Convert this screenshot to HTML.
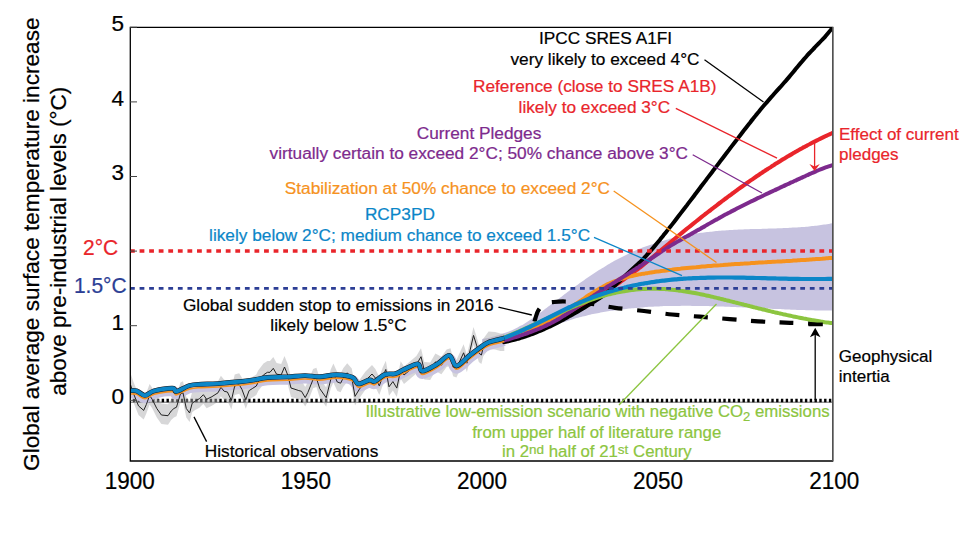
<!DOCTYPE html>
<html><head><meta charset="utf-8"><style>html,body{margin:0;padding:0;background:#fff;width:974px;height:534px;overflow:hidden}svg{display:block}text{font-family:"Liberation Sans",sans-serif;stroke:currentColor;stroke-width:0.22px}</style></head><body>
<svg width="974" height="534" viewBox="0 0 974 534" font-family="Liberation Sans, sans-serif">
<rect width="974" height="534" fill="#fff"/><defs><clipPath id="pc"><rect x="130.3" y="27.4" width="702.4" height="433.1"/></clipPath></defs><g clip-path="url(#pc)">
<path d="M482.0,339.2 C482.5,339.1 484.0,338.8 485.0,338.6 C486.0,338.4 487.0,338.2 488.0,338.0 C489.0,337.7 490.0,337.5 491.0,337.2 C492.0,337.0 493.0,336.7 494.0,336.5 C495.0,336.2 496.0,335.9 497.0,335.6 C498.0,335.3 499.0,335.0 500.0,334.7 C501.0,334.4 502.0,334.1 503.0,333.7 C504.0,333.4 505.0,333.0 506.0,332.6 C507.0,332.3 508.0,331.9 509.0,331.5 C510.0,331.0 511.0,330.6 512.0,330.2 C513.0,329.7 514.0,329.3 515.0,328.8 C516.0,328.3 517.0,327.8 518.0,327.3 C519.0,326.7 520.0,326.2 521.0,325.6 C522.0,325.1 523.0,324.5 524.0,323.9 C525.0,323.3 526.0,322.6 527.0,322.0 C528.0,321.4 529.0,320.7 530.0,320.0 C531.0,319.3 532.0,318.7 533.0,318.0 C534.0,317.3 535.0,316.5 536.0,315.8 C537.0,315.1 538.0,314.4 539.0,313.6 C540.0,312.9 541.0,312.1 542.0,311.4 C543.0,310.6 544.0,309.9 545.0,309.1 C546.0,308.4 547.0,307.6 548.0,306.8 C549.0,306.1 550.0,305.3 551.0,304.5 C552.0,303.8 553.0,303.0 554.0,302.3 C555.0,301.5 556.0,300.7 557.0,300.0 C558.0,299.2 559.0,298.5 560.0,297.7 C561.0,296.9 562.0,296.2 563.0,295.4 C564.0,294.7 565.0,293.9 566.0,293.2 C567.0,292.4 568.0,291.7 569.0,291.0 C570.0,290.2 571.0,289.5 572.0,288.8 C573.0,288.0 574.0,287.3 575.0,286.6 C576.0,285.8 577.0,285.1 578.0,284.4 C579.0,283.7 580.0,283.0 581.0,282.3 C582.0,281.6 583.0,280.9 584.0,280.2 C585.0,279.5 586.0,278.8 587.0,278.1 C588.0,277.4 589.0,276.7 590.0,276.0 C591.0,275.4 592.0,274.7 593.0,274.0 C594.0,273.4 595.0,272.7 596.0,272.1 C597.0,271.4 598.0,270.8 599.0,270.1 C600.0,269.5 601.0,268.9 602.0,268.2 C603.0,267.6 604.0,267.0 605.0,266.4 C606.0,265.8 607.0,265.2 608.0,264.6 C609.0,264.0 610.0,263.4 611.0,262.8 C612.0,262.3 613.0,261.7 614.0,261.1 C615.0,260.6 616.0,260.0 617.0,259.5 C618.0,258.9 619.0,258.4 620.0,257.9 C621.0,257.4 622.0,256.9 623.0,256.4 C624.0,255.9 625.0,255.4 626.0,254.9 C627.0,254.4 628.0,253.9 629.0,253.5 C630.0,253.0 631.0,252.5 632.0,252.1 C633.0,251.6 634.0,251.2 635.0,250.8 C636.0,250.3 637.0,249.9 638.0,249.5 C639.0,249.1 640.0,248.7 641.0,248.3 C642.0,247.9 643.0,247.5 644.0,247.1 C645.0,246.7 646.0,246.3 647.0,246.0 C648.0,245.6 649.0,245.2 650.0,244.9 C651.0,244.5 652.0,244.2 653.0,243.9 C654.0,243.5 655.0,243.2 656.0,242.9 C657.0,242.6 658.0,242.2 659.0,241.9 C660.0,241.6 661.0,241.3 662.0,241.0 C663.0,240.7 664.0,240.5 665.0,240.2 C666.0,239.9 667.0,239.6 668.0,239.4 C669.0,239.1 670.0,238.8 671.0,238.6 C672.0,238.3 673.0,238.1 674.0,237.8 C675.0,237.6 676.0,237.4 677.0,237.1 C678.0,236.9 679.0,236.7 680.0,236.5 C681.0,236.3 682.0,236.1 683.0,235.9 C684.0,235.7 685.0,235.5 686.0,235.3 C687.0,235.1 688.0,234.9 689.0,234.7 C690.0,234.5 691.0,234.4 692.0,234.2 C693.0,234.0 694.0,233.9 695.0,233.7 C696.0,233.5 697.0,233.4 698.0,233.2 C699.0,233.1 700.0,233.0 701.0,232.8 C702.0,232.7 703.0,232.5 704.0,232.4 C705.0,232.3 706.0,232.2 707.0,232.0 C708.0,231.9 709.0,231.8 710.0,231.7 C711.0,231.6 712.0,231.5 713.0,231.4 C714.0,231.3 715.0,231.2 716.0,231.1 C717.0,231.0 718.0,230.9 719.0,230.8 C720.0,230.8 721.0,230.7 722.0,230.6 C723.0,230.5 724.0,230.5 725.0,230.4 C726.0,230.3 727.0,230.3 728.0,230.2 C729.0,230.1 730.0,230.1 731.0,230.0 C732.0,230.0 733.0,229.9 734.0,229.8 C735.0,229.8 736.0,229.7 737.0,229.7 C738.0,229.7 739.0,229.6 740.0,229.6 C741.0,229.5 742.0,229.5 743.0,229.4 C744.0,229.4 745.0,229.4 746.0,229.3 C747.0,229.3 748.0,229.3 749.0,229.2 C750.0,229.2 751.0,229.2 752.0,229.1 C753.0,229.1 754.0,229.1 755.0,229.0 C756.0,229.0 757.0,229.0 758.0,229.0 C759.0,228.9 760.0,228.9 761.0,228.9 C762.0,228.8 763.0,228.8 764.0,228.8 C765.0,228.8 766.0,228.7 767.0,228.7 C768.0,228.7 769.0,228.6 770.0,228.6 C771.0,228.6 772.0,228.5 773.0,228.5 C774.0,228.5 775.0,228.4 776.0,228.4 C777.0,228.4 778.0,228.3 779.0,228.3 C780.0,228.3 781.0,228.2 782.0,228.2 C783.0,228.1 784.0,228.1 785.0,228.1 C786.0,228.0 787.0,228.0 788.0,227.9 C789.0,227.9 790.0,227.8 791.0,227.8 C792.0,227.7 793.0,227.6 794.0,227.6 C795.0,227.5 796.0,227.5 797.0,227.4 C798.0,227.3 799.0,227.3 800.0,227.2 C801.0,227.1 802.0,227.0 803.0,227.0 C804.0,226.9 805.0,226.8 806.0,226.7 C807.0,226.6 808.0,226.5 809.0,226.4 C810.0,226.3 811.0,226.2 812.0,226.1 C813.0,226.0 814.0,225.9 815.0,225.8 C816.0,225.7 817.0,225.6 818.0,225.4 C819.0,225.3 820.0,225.2 821.0,225.0 C822.0,224.9 823.0,224.8 824.0,224.6 C825.0,224.5 826.0,224.3 827.0,224.2 C828.0,224.0 829.2,223.8 830.0,223.7 C830.8,223.5 831.7,223.4 832.0,223.3 L832.0,310.6 C831.7,310.6 830.8,310.6 830.0,310.5 C829.2,310.5 828.0,310.5 827.0,310.5 C826.0,310.5 825.0,310.5 824.0,310.5 C823.0,310.5 822.0,310.5 821.0,310.5 C820.0,310.5 819.0,310.4 818.0,310.4 C817.0,310.4 816.0,310.4 815.0,310.4 C814.0,310.4 813.0,310.3 812.0,310.3 C811.0,310.3 810.0,310.3 809.0,310.2 C808.0,310.2 807.0,310.2 806.0,310.2 C805.0,310.1 804.0,310.1 803.0,310.1 C802.0,310.0 801.0,310.0 800.0,310.0 C799.0,309.9 798.0,309.9 797.0,309.9 C796.0,309.8 795.0,309.8 794.0,309.8 C793.0,309.7 792.0,309.7 791.0,309.7 C790.0,309.6 789.0,309.6 788.0,309.5 C787.0,309.5 786.0,309.4 785.0,309.4 C784.0,309.4 783.0,309.3 782.0,309.3 C781.0,309.2 780.0,309.2 779.0,309.1 C778.0,309.1 777.0,309.1 776.0,309.0 C775.0,309.0 774.0,308.9 773.0,308.9 C772.0,308.8 771.0,308.8 770.0,308.7 C769.0,308.7 768.0,308.6 767.0,308.6 C766.0,308.5 765.0,308.5 764.0,308.4 C763.0,308.4 762.0,308.3 761.0,308.3 C760.0,308.2 759.0,308.2 758.0,308.2 C757.0,308.1 756.0,308.1 755.0,308.0 C754.0,308.0 753.0,307.9 752.0,307.9 C751.0,307.8 750.0,307.8 749.0,307.7 C748.0,307.7 747.0,307.6 746.0,307.6 C745.0,307.5 744.0,307.5 743.0,307.4 C742.0,307.4 741.0,307.3 740.0,307.3 C739.0,307.3 738.0,307.2 737.0,307.2 C736.0,307.1 735.0,307.1 734.0,307.0 C733.0,307.0 732.0,306.9 731.0,306.9 C730.0,306.9 729.0,306.8 728.0,306.8 C727.0,306.7 726.0,306.7 725.0,306.7 C724.0,306.6 723.0,306.6 722.0,306.6 C721.0,306.5 720.0,306.5 719.0,306.5 C718.0,306.4 717.0,306.4 716.0,306.4 C715.0,306.3 714.0,306.3 713.0,306.3 C712.0,306.2 711.0,306.2 710.0,306.2 C709.0,306.2 708.0,306.1 707.0,306.1 C706.0,306.1 705.0,306.1 704.0,306.0 C703.0,306.0 702.0,306.0 701.0,306.0 C700.0,306.0 699.0,305.9 698.0,305.9 C697.0,305.9 696.0,305.9 695.0,305.9 C694.0,305.9 693.0,305.9 692.0,305.9 C691.0,305.8 690.0,305.8 689.0,305.8 C688.0,305.8 687.0,305.8 686.0,305.8 C685.0,305.8 684.0,305.8 683.0,305.8 C682.0,305.8 681.0,305.8 680.0,305.9 C679.0,305.9 678.0,305.9 677.0,305.9 C676.0,305.9 675.0,305.9 674.0,305.9 C673.0,305.9 672.0,306.0 671.0,306.0 C670.0,306.0 669.0,306.0 668.0,306.1 C667.0,306.1 666.0,306.1 665.0,306.1 C664.0,306.2 663.0,306.2 662.0,306.3 C661.0,306.3 660.0,306.3 659.0,306.4 C658.0,306.4 657.0,306.5 656.0,306.5 C655.0,306.6 654.0,306.6 653.0,306.7 C652.0,306.7 651.0,306.8 650.0,306.8 C649.0,306.9 648.0,306.9 647.0,307.0 C646.0,307.1 645.0,307.1 644.0,307.2 C643.0,307.3 642.0,307.4 641.0,307.4 C640.0,307.5 639.0,307.6 638.0,307.7 C637.0,307.8 636.0,307.9 635.0,307.9 C634.0,308.0 633.0,308.1 632.0,308.2 C631.0,308.3 630.0,308.4 629.0,308.5 C628.0,308.6 627.0,308.7 626.0,308.9 C625.0,309.0 624.0,309.1 623.0,309.2 C622.0,309.3 621.0,309.5 620.0,309.6 C619.0,309.7 618.0,309.8 617.0,310.0 C616.0,310.1 615.0,310.2 614.0,310.4 C613.0,310.5 612.0,310.7 611.0,310.8 C610.0,311.0 609.0,311.1 608.0,311.3 C607.0,311.5 606.0,311.6 605.0,311.8 C604.0,312.0 603.0,312.1 602.0,312.3 C601.0,312.5 600.0,312.7 599.0,312.9 C598.0,313.1 597.0,313.3 596.0,313.5 C595.0,313.7 594.0,313.9 593.0,314.1 C592.0,314.3 591.0,314.5 590.0,314.8 C589.0,315.0 588.0,315.2 587.0,315.4 C586.0,315.7 585.0,315.9 584.0,316.2 C583.0,316.4 582.0,316.7 581.0,317.0 C580.0,317.2 579.0,317.5 578.0,317.8 C577.0,318.0 576.0,318.3 575.0,318.6 C574.0,318.9 573.0,319.2 572.0,319.5 C571.0,319.8 570.0,320.1 569.0,320.4 C568.0,320.8 567.0,321.1 566.0,321.4 C565.0,321.7 564.0,322.1 563.0,322.4 C562.0,322.8 561.0,323.1 560.0,323.5 C559.0,323.8 558.0,324.1 557.0,324.5 C556.0,324.9 555.0,325.2 554.0,325.6 C553.0,325.9 552.0,326.3 551.0,326.7 C550.0,327.0 549.0,327.4 548.0,327.8 C547.0,328.1 546.0,328.5 545.0,328.9 C544.0,329.2 543.0,329.6 542.0,330.0 C541.0,330.3 540.0,330.7 539.0,331.1 C538.0,331.4 537.0,331.8 536.0,332.2 C535.0,332.5 534.0,332.9 533.0,333.3 C532.0,333.6 531.0,334.0 530.0,334.3 C529.0,334.7 528.0,335.0 527.0,335.4 C526.0,335.7 525.0,336.1 524.0,336.4 C523.0,336.8 522.0,337.1 521.0,337.4 C520.0,337.8 519.0,338.1 518.0,338.4 C517.0,338.7 516.0,339.1 515.0,339.4 C514.0,339.7 513.0,340.0 512.0,340.3 C511.0,340.6 510.0,340.9 509.0,341.1 C508.0,341.4 507.0,341.7 506.0,342.0 C505.0,342.2 504.0,342.5 503.0,342.7 C502.0,343.0 501.0,343.2 500.0,343.5 C499.0,343.7 498.0,343.9 497.0,344.1 C496.0,344.3 495.0,344.5 494.0,344.7 C493.0,344.9 492.0,345.1 491.0,345.2 C490.0,345.4 489.0,345.6 488.0,345.7 C487.0,345.8 486.0,346.0 485.0,346.1 C484.0,346.2 482.5,346.3 482.0,346.4 Z" fill="#c7c3e0"/>
<line x1="130" y1="402.2" x2="832" y2="402.2" stroke="#666" stroke-width="1"/>
<line x1="130" y1="400.4" x2="832" y2="400.4" stroke="#000" stroke-width="3.5" stroke-dasharray="2.4 2.4" stroke-dashoffset="-2.9"/>
<path d="M130.6,373.5 L133.2,381.3 L138.5,394.4 L143.7,398.9 L146.3,393.1 L149.6,383.9 L152.2,387.8 L156.8,397.0 L161.4,403.5 L168.0,404.2 L171.2,399.5 L173.9,397.0 L176.5,395.7 L180.4,382.5 L183.0,381.3 L186.3,397.0 L189.6,401.5 L192.2,391.7 L194.8,389.8 L199.4,387.2 L203.4,383.2 L206.6,387.8 L211.9,385.2 L218.0,381.3 L220.9,375.8 L224.2,379.8 L227.4,380.5 L231.4,388.9 L234.7,374.5 L239.2,373.2 L241.9,377.8 L245.8,388.3 L249.1,379.1 L252.3,377.1 L256.3,374.5 L258.2,370.6 L263.5,363.5 L267.4,361.0 L270.0,361.0 L273.3,357.1 L276.6,363.1 L281.2,363.9 L284.5,356.0 L287.7,364.0 L291.0,377.2 L295.0,378.6 L298.8,379.9 L301.5,380.7 L305.2,387.1 L307.9,381.9 L313.1,368.9 L316.4,367.7 L319.7,378.3 L326.2,387.6 L330.8,369.3 L333.4,363.5 L337.3,372.2 L340.6,373.4 L343.2,368.3 L347.2,363.2 L351.8,368.5 L355.0,386.9 L359.0,380.4 L365.5,371.4 L372.0,364.9 L375.4,369.0 L379.3,377.0 L382.6,367.8 L385.8,360.7 L389.0,378.1 L392.9,372.9 L396.8,379.5 L400.7,361.3 L404.0,366.5 L416.4,356.1 L421.0,348.2 L424.3,361.9 L430.2,362.6 L435.4,353.4 L441.4,356.7 L446.6,349.5 L450.5,348.2 L453.1,358.7 L456.4,360.0 L463.6,344.3 L466.9,354.7 L470.2,341.3 L473.5,326.9 L476.8,337.4 L478.8,344.6 L481.4,346.5 L483.3,338.7 L488.6,331.5 L495.1,332.1 L500.4,333.5 L504.3,333.5 L504.3,351.0 L500.4,351.0 L495.1,349.6 L488.6,349.0 L483.3,356.2 L481.4,364.0 L478.8,362.1 L476.8,354.9 L473.5,344.4 L470.2,358.8 L466.9,372.2 L463.6,361.8 L456.4,377.5 L453.1,376.2 L450.5,365.7 L446.6,367.0 L441.4,374.2 L435.4,370.9 L430.2,380.1 L424.3,379.4 L421.0,365.7 L416.4,373.6 L404.0,384.0 L400.7,378.8 L396.8,397.1 L392.9,390.6 L389.0,395.8 L385.8,378.5 L382.6,385.7 L379.3,394.9 L375.4,387.0 L372.0,383.0 L365.5,389.6 L359.0,398.8 L355.0,405.4 L351.8,387.0 L347.2,381.8 L343.2,387.0 L340.6,392.2 L337.3,391.0 L333.4,382.4 L330.8,388.3 L326.2,406.7 L319.7,397.5 L316.4,387.0 L313.1,388.3 L307.9,401.4 L305.2,406.6 L301.5,400.3 L298.8,399.6 L295.0,398.3 L291.0,397.0 L287.7,383.9 L284.5,376.0 L281.2,383.9 L276.6,383.2 L273.3,377.3 L270.0,381.3 L267.4,381.3 L263.5,383.9 L258.2,391.1 L256.3,395.0 L252.3,397.6 L249.1,399.6 L245.8,408.8 L241.9,398.3 L239.2,393.7 L234.7,395.0 L231.4,409.4 L227.4,401.0 L224.2,400.3 L220.9,396.3 L218.0,401.8 L211.9,405.7 L206.6,408.3 L203.4,403.7 L199.4,407.7 L194.8,410.3 L192.2,412.2 L189.6,422.0 L186.3,417.5 L183.0,401.8 L180.4,403.0 L176.5,416.2 L173.9,417.5 L171.2,420.0 L168.0,424.7 L161.4,424.0 L156.8,417.5 L152.2,408.3 L149.6,404.4 L146.3,413.6 L143.7,419.4 L138.5,414.9 L133.2,401.8 L130.6,394.0 Z" fill="#aaaaad" fill-opacity="0.47"/>
<path d="M130.0,393.6 C131.1,393.6 134.0,392.8 136.5,393.6 C139.0,394.4 142.1,398.2 145.0,398.2 C147.9,398.2 149.6,394.8 154.2,393.6 C158.8,392.4 168.8,390.9 172.5,391.0 C176.2,391.1 173.7,394.6 176.5,394.2 C179.3,393.8 185.4,389.5 189.6,388.3 C193.8,387.1 196.7,387.3 201.4,387.0 C206.1,386.7 210.3,387.0 218.0,386.4 C225.7,385.8 239.6,384.6 247.8,383.6 C256.0,382.6 260.9,381.0 267.4,380.3 C273.9,379.6 280.7,380.0 287.0,379.7 C293.3,379.4 299.6,378.4 305.0,378.4 C310.4,378.4 314.4,379.6 319.7,379.5 C325.0,379.4 331.2,377.4 336.7,377.5 C342.1,377.6 348.8,378.6 352.4,380.1 C356.0,381.6 355.5,386.2 358.3,386.7 C361.1,387.1 366.7,383.2 369.4,382.8 C372.1,382.4 372.1,385.0 374.7,384.1 C377.3,383.2 381.5,378.5 385.0,377.2 C388.5,375.9 392.4,377.3 395.5,376.5 C398.6,375.7 399.6,374.2 403.3,372.6 C407.0,371.0 414.6,366.5 417.8,366.7 C421.0,366.9 419.0,373.9 422.3,373.9 C425.6,373.9 432.9,369.3 437.4,366.7 C441.9,364.1 446.0,357.9 449.2,358.2 C452.4,358.5 453.1,368.6 456.4,368.7 C459.7,368.8 465.3,361.6 468.9,358.8 C472.5,356.0 474.8,354.1 478.1,351.8 C481.4,349.5 484.2,346.9 488.6,345.1 C493.0,343.3 501.7,341.7 504.3,341.0" fill="none" stroke="#c7c3e0" stroke-width="10" stroke-linejoin="round"/>
<path d="M130.6,385.0 L133.2,392.8 L138.5,405.9 L143.7,410.4 L146.3,404.6 L149.6,395.4 L152.2,399.3 L156.8,408.5 L161.4,415.0 L168.0,415.7 L171.2,411.0 L173.9,408.5 L176.5,407.2 L180.4,394.0 L183.0,392.8 L186.3,408.5 L189.6,413.0 L192.2,403.2 L194.8,401.3 L199.4,398.7 L203.4,394.7 L206.6,399.3 L211.9,396.7 L218.0,392.8 L220.9,387.3 L224.2,391.3 L227.4,392.0 L231.4,400.4 L234.7,386.0 L239.2,384.7 L241.9,389.3 L245.8,399.8 L249.1,390.6 L252.3,388.6 L256.3,386.0 L258.2,382.1 L263.5,374.9 L267.4,372.3 L270.0,372.3 L273.3,368.3 L276.6,374.2 L281.2,374.9 L284.5,367.0 L287.7,374.9 L291.0,388.0 L295.0,389.3 L298.8,390.6 L301.5,391.3 L305.2,397.6 L307.9,392.4 L313.1,379.3 L316.4,378.0 L319.7,388.5 L326.2,397.7 L330.8,379.3 L333.4,373.4 L337.3,382.0 L340.6,383.2 L343.2,378.0 L347.2,372.8 L351.8,378.0 L355.0,396.4 L359.0,389.8 L365.5,380.6 L372.0,374.0 L375.4,378.0 L379.3,385.9 L382.6,376.7 L385.8,369.5 L389.0,386.8 L392.9,381.6 L396.8,388.1 L400.7,369.8 L404.0,375.0 L416.4,364.6 L421.0,356.7 L424.3,370.4 L430.2,371.1 L435.4,361.9 L441.4,365.2 L446.6,358.0 L450.5,356.7 L453.1,367.2 L456.4,368.5 L463.6,352.8 L466.9,363.2 L470.2,349.8 L473.5,335.4 L476.8,345.9 L478.8,353.1 L481.4,355.0 L483.3,347.2 L488.6,340.0 L495.1,340.6 L500.4,342.0 L504.3,342.0" fill="none" stroke="#222" stroke-width="1" stroke-linejoin="round"/>
<path d="M533.4,326.0 C533.8,324.7 534.6,320.6 535.5,318.0 C536.4,315.4 536.9,312.5 538.5,310.1 C540.1,307.7 542.8,304.8 545.0,303.5 C547.2,302.2 548.7,302.5 552.0,302.2 C555.3,301.9 558.7,301.3 565.0,301.5 C571.3,301.7 581.7,302.6 590.0,303.6 C598.3,304.7 606.0,306.6 615.0,307.8 C624.0,309.0 634.5,309.9 644.0,311.0 C653.5,312.1 662.7,313.6 672.0,314.5 C681.3,315.4 685.7,315.6 700.0,316.7 C714.3,317.8 743.0,320.3 758.0,321.3 C773.0,322.3 779.2,322.4 790.0,322.8 C800.8,323.2 817.5,323.8 823.0,324.0" fill="none" stroke="#000" stroke-width="4.2" stroke-dasharray="14 14.6" stroke-dashoffset="-4.5"/>
<path d="M504.0,341.5 C504.5,341.4 506.0,341.0 507.0,340.8 C508.0,340.5 509.0,340.2 510.0,340.0 C511.0,339.7 512.0,339.4 513.0,339.1 C514.0,338.8 515.0,338.5 516.0,338.2 C517.0,337.9 518.0,337.5 519.0,337.2 C520.0,336.9 521.0,336.5 522.0,336.2 C523.0,335.8 524.0,335.5 525.0,335.1 C526.0,334.8 527.0,334.4 528.0,334.0 C529.0,333.7 530.0,333.3 531.0,332.9 C532.0,332.5 533.0,332.1 534.0,331.7 C535.0,331.3 536.0,330.9 537.0,330.5 C538.0,330.0 539.0,329.6 540.0,329.2 C541.0,328.7 542.0,328.3 543.0,327.8 C544.0,327.4 545.0,326.9 546.0,326.5 C547.0,326.0 548.0,325.5 549.0,325.1 C550.0,324.6 551.0,324.1 552.0,323.6 C553.0,323.1 554.0,322.6 555.0,322.1 C556.0,321.6 557.0,321.1 558.0,320.5 C559.0,320.0 560.0,319.5 561.0,319.0 C562.0,318.4 563.0,317.9 564.0,317.3 C565.0,316.8 566.0,316.2 567.0,315.7 C568.0,315.1 569.0,314.6 570.0,314.0 C571.0,313.4 572.0,312.9 573.0,312.3 C574.0,311.7 575.0,311.1 576.0,310.6 C577.0,310.0 578.0,309.4 579.0,308.8 C580.0,308.2 581.0,307.6 582.0,307.0 C583.0,306.5 584.0,305.9 585.0,305.2 C586.0,304.6 587.0,304.0 588.0,303.4 C589.0,302.8 590.0,302.2 591.0,301.6 C592.0,300.9 593.0,300.3 594.0,299.7 C595.0,299.0 596.0,298.4 597.0,297.8 C598.0,297.1 599.0,296.5 600.0,295.8 C601.0,295.2 602.0,294.5 603.0,293.8 C604.0,293.2 605.0,292.5 606.0,291.8 C607.0,291.2 608.0,290.5 609.0,289.8 C610.0,289.1 611.0,288.4 612.0,287.7 C613.0,287.0 614.0,286.3 615.0,285.7 C616.0,285.0 617.0,284.3 618.0,283.5 C619.0,282.8 620.0,282.1 621.0,281.4 C622.0,280.7 623.0,280.0 624.0,279.3 C625.0,278.6 626.0,277.8 627.0,277.1 C628.0,276.4 629.0,275.7 630.0,274.9 C631.0,274.2 632.0,273.4 633.0,272.7 C634.0,271.9 635.0,271.2 636.0,270.4 C637.0,269.7 638.0,268.9 639.0,268.1 C640.0,267.4 641.0,266.6 642.0,265.8 C643.0,265.0 644.0,264.2 645.0,263.4 C646.0,262.6 647.0,261.8 648.0,261.0 C649.0,260.1 650.0,259.3 651.0,258.5 C652.0,257.7 653.0,256.8 654.0,256.0 C655.0,255.2 656.0,254.3 657.0,253.5 C658.0,252.7 659.0,251.8 660.0,251.0 C661.0,250.2 662.0,249.3 663.0,248.5 C664.0,247.7 665.0,246.8 666.0,246.0 C667.0,245.1 668.0,244.3 669.0,243.5 C670.0,242.6 671.0,241.8 672.0,241.0 C673.0,240.2 674.0,239.3 675.0,238.5 C676.0,237.7 677.0,236.9 678.0,236.0 C679.0,235.2 680.0,234.4 681.0,233.6 C682.0,232.8 683.0,231.9 684.0,231.1 C685.0,230.3 686.0,229.5 687.0,228.7 C688.0,227.9 689.0,227.1 690.0,226.3 C691.0,225.5 692.0,224.7 693.0,223.9 C694.0,223.1 695.0,222.3 696.0,221.5 C697.0,220.7 698.0,219.9 699.0,219.1 C700.0,218.3 701.0,217.5 702.0,216.7 C703.0,215.9 704.0,215.1 705.0,214.3 C706.0,213.6 707.0,212.8 708.0,212.0 C709.0,211.2 710.0,210.4 711.0,209.7 C712.0,208.9 713.0,208.1 714.0,207.4 C715.0,206.6 716.0,205.8 717.0,205.1 C718.0,204.3 719.0,203.5 720.0,202.8 C721.0,202.0 722.0,201.3 723.0,200.5 C724.0,199.8 725.0,199.0 726.0,198.3 C727.0,197.5 728.0,196.8 729.0,196.0 C730.0,195.3 731.0,194.6 732.0,193.8 C733.0,193.1 734.0,192.4 735.0,191.6 C736.0,190.9 737.0,190.2 738.0,189.4 C739.0,188.7 740.0,188.0 741.0,187.3 C742.0,186.6 743.0,185.9 744.0,185.2 C745.0,184.4 746.0,183.7 747.0,183.0 C748.0,182.3 749.0,181.6 750.0,180.9 C751.0,180.2 752.0,179.6 753.0,178.9 C754.0,178.2 755.0,177.5 756.0,176.8 C757.0,176.1 758.0,175.5 759.0,174.8 C760.0,174.1 761.0,173.4 762.0,172.8 C763.0,172.1 764.0,171.4 765.0,170.8 C766.0,170.1 767.0,169.5 768.0,168.8 C769.0,168.2 770.0,167.5 771.0,166.9 C772.0,166.2 773.0,165.6 774.0,165.0 C775.0,164.3 776.0,163.7 777.0,163.1 C778.0,162.4 779.0,161.8 780.0,161.2 C781.0,160.6 782.0,160.0 783.0,159.3 C784.0,158.7 785.0,158.1 786.0,157.5 C787.0,156.9 788.0,156.3 789.0,155.7 C790.0,155.1 791.0,154.6 792.0,154.0 C793.0,153.4 794.0,152.8 795.0,152.2 C796.0,151.7 797.0,151.1 798.0,150.5 C799.0,150.0 800.0,149.4 801.0,148.8 C802.0,148.3 803.0,147.7 804.0,147.2 C805.0,146.6 806.0,146.1 807.0,145.6 C808.0,145.0 809.0,144.5 810.0,144.0 C811.0,143.4 812.0,142.9 813.0,142.4 C814.0,141.9 815.0,141.4 816.0,140.9 C817.0,140.4 818.0,139.8 819.0,139.4 C820.0,138.9 821.0,138.4 822.0,137.9 C823.0,137.4 824.0,136.9 825.0,136.4 C826.0,136.0 827.0,135.5 828.0,135.0 C829.0,134.5 830.3,133.9 831.0,133.6 C831.7,133.3 831.8,133.3 832.0,133.2" fill="none" stroke="#e9252b" stroke-width="4.1" stroke-linecap="round"/>
<path d="M504.0,342.1 C504.5,342.0 506.0,341.7 507.0,341.5 C508.0,341.3 509.0,341.1 510.0,340.8 C511.0,340.6 512.0,340.4 513.0,340.1 C514.0,339.9 515.0,339.6 516.0,339.3 C517.0,339.0 518.0,338.8 519.0,338.5 C520.0,338.2 521.0,337.9 522.0,337.5 C523.0,337.2 524.0,336.9 525.0,336.6 C526.0,336.2 527.0,335.9 528.0,335.5 C529.0,335.2 530.0,334.8 531.0,334.4 C532.0,334.1 533.0,333.7 534.0,333.3 C535.0,332.9 536.0,332.5 537.0,332.1 C538.0,331.7 539.0,331.3 540.0,330.9 C541.0,330.4 542.0,330.0 543.0,329.6 C544.0,329.1 545.0,328.7 546.0,328.2 C547.0,327.8 548.0,327.3 549.0,326.8 C550.0,326.4 551.0,325.9 552.0,325.4 C553.0,324.9 554.0,324.4 555.0,323.9 C556.0,323.4 557.0,322.9 558.0,322.4 C559.0,321.9 560.0,321.4 561.0,320.8 C562.0,320.3 563.0,319.8 564.0,319.2 C565.0,318.7 566.0,318.2 567.0,317.6 C568.0,317.1 569.0,316.5 570.0,315.9 C571.0,315.4 572.0,314.8 573.0,314.2 C574.0,313.7 575.0,313.1 576.0,312.5 C577.0,311.9 578.0,311.4 579.0,310.8 C580.0,310.2 581.0,309.6 582.0,309.0 C583.0,308.4 584.0,307.8 585.0,307.2 C586.0,306.6 587.0,306.0 588.0,305.4 C589.0,304.8 590.0,304.2 591.0,303.6 C592.0,303.0 593.0,302.4 594.0,301.7 C595.0,301.1 596.0,300.5 597.0,299.9 C598.0,299.2 599.0,298.6 600.0,297.9 C601.0,297.2 602.0,296.5 603.0,295.8 C604.0,295.1 605.0,294.3 606.0,293.5 C607.0,292.7 608.0,291.8 609.0,290.9 C610.0,290.1 611.0,289.1 612.0,288.2 C613.0,287.3 614.0,286.4 615.0,285.4 C616.0,284.5 617.0,283.5 618.0,282.6 C619.0,281.6 620.0,280.6 621.0,279.7 C622.0,278.7 623.0,277.7 624.0,276.8 C625.0,275.8 626.0,274.9 627.0,274.0 C628.0,273.0 629.0,272.1 630.0,271.2 C631.0,270.3 632.0,269.4 633.0,268.5 C634.0,267.6 635.0,266.7 636.0,265.8 C637.0,264.9 638.0,264.0 639.0,263.0 C640.0,262.1 641.0,261.1 642.0,260.1 C643.0,259.1 644.0,258.0 645.0,257.0 C646.0,255.9 647.0,254.8 648.0,253.7 C649.0,252.6 650.0,251.5 651.0,250.4 C652.0,249.2 653.0,248.1 654.0,246.9 C655.0,245.7 656.0,244.5 657.0,243.3 C658.0,242.1 659.0,240.9 660.0,239.7 C661.0,238.5 662.0,237.2 663.0,236.0 C664.0,234.7 665.0,233.5 666.0,232.2 C667.0,231.0 668.0,229.7 669.0,228.4 C670.0,227.1 671.0,225.9 672.0,224.6 C673.0,223.3 674.0,222.0 675.0,220.7 C676.0,219.4 677.0,218.1 678.0,216.8 C679.0,215.5 680.0,214.2 681.0,212.9 C682.0,211.6 683.0,210.3 684.0,209.0 C685.0,207.7 686.0,206.4 687.0,205.1 C688.0,203.7 689.0,202.4 690.0,201.1 C691.0,199.8 692.0,198.5 693.0,197.2 C694.0,195.9 695.0,194.5 696.0,193.2 C697.0,191.9 698.0,190.6 699.0,189.3 C700.0,188.0 701.0,186.6 702.0,185.3 C703.0,184.0 704.0,182.7 705.0,181.4 C706.0,180.1 707.0,178.7 708.0,177.4 C709.0,176.1 710.0,174.8 711.0,173.5 C712.0,172.2 713.0,170.8 714.0,169.5 C715.0,168.2 716.0,166.9 717.0,165.6 C718.0,164.3 719.0,163.0 720.0,161.6 C721.0,160.3 722.0,159.0 723.0,157.7 C724.0,156.4 725.0,155.1 726.0,153.8 C727.0,152.5 728.0,151.2 729.0,149.9 C730.0,148.5 731.0,147.2 732.0,145.9 C733.0,144.6 734.0,143.3 735.0,142.0 C736.0,140.7 737.0,139.4 738.0,138.1 C739.0,136.8 740.0,135.5 741.0,134.2 C742.0,132.9 743.0,131.6 744.0,130.3 C745.0,129.1 746.0,127.8 747.0,126.5 C748.0,125.2 749.0,123.9 750.0,122.7 C751.0,121.4 752.0,120.1 753.0,118.9 C754.0,117.6 755.0,116.4 756.0,115.1 C757.0,113.9 758.0,112.7 759.0,111.5 C760.0,110.2 761.0,109.0 762.0,107.8 C763.0,106.6 764.0,105.5 765.0,104.3 C766.0,103.1 767.0,101.9 768.0,100.8 C769.0,99.7 770.0,98.5 771.0,97.4 C772.0,96.3 773.0,95.2 774.0,94.0 C775.0,92.9 776.0,91.8 777.0,90.7 C778.0,89.6 779.0,88.5 780.0,87.4 C781.0,86.3 782.0,85.1 783.0,84.0 C784.0,82.9 785.0,81.7 786.0,80.6 C787.0,79.4 788.0,78.3 789.0,77.1 C790.0,75.9 791.0,74.7 792.0,73.5 C793.0,72.3 794.0,71.1 795.0,69.9 C796.0,68.7 797.0,67.4 798.0,66.2 C799.0,65.0 800.0,63.8 801.0,62.7 C802.0,61.5 803.0,60.3 804.0,59.1 C805.0,58.0 806.0,56.9 807.0,55.7 C808.0,54.6 809.0,53.5 810.0,52.5 C811.0,51.4 812.0,50.4 813.0,49.3 C814.0,48.3 815.0,47.2 816.0,46.2 C817.0,45.2 818.0,44.2 819.0,43.1 C820.0,42.1 821.0,41.1 822.0,40.0 C823.0,38.9 824.0,37.9 825.0,36.8 C826.0,35.7 827.0,34.5 828.0,33.3 C829.0,32.1 830.0,30.9 831.0,29.6 C832.0,28.3 833.5,26.3 834.0,25.6" fill="none" stroke="#000" stroke-width="4" stroke-linecap="round"/>
<path d="M504.0,337.7 C504.5,337.5 506.0,337.2 507.0,336.9 C508.0,336.6 509.0,336.3 510.0,336.1 C511.0,335.8 512.0,335.5 513.0,335.2 C514.0,334.9 515.0,334.6 516.0,334.3 C517.0,334.0 518.0,333.6 519.0,333.3 C520.0,333.0 521.0,332.7 522.0,332.3 C523.0,332.0 524.0,331.6 525.0,331.3 C526.0,330.9 527.0,330.5 528.0,330.2 C529.0,329.8 530.0,329.4 531.0,329.0 C532.0,328.6 533.0,328.2 534.0,327.8 C535.0,327.4 536.0,326.9 537.0,326.5 C538.0,326.1 539.0,325.6 540.0,325.2 C541.0,324.7 542.0,324.2 543.0,323.8 C544.0,323.3 545.0,322.8 546.0,322.3 C547.0,321.8 548.0,321.3 549.0,320.8 C550.0,320.3 551.0,319.7 552.0,319.2 C553.0,318.6 554.0,318.1 555.0,317.5 C556.0,316.9 557.0,316.3 558.0,315.8 C559.0,315.2 560.0,314.5 561.0,313.9 C562.0,313.3 563.0,312.7 564.0,312.0 C565.0,311.4 566.0,310.7 567.0,310.1 C568.0,309.4 569.0,308.7 570.0,308.1 C571.0,307.4 572.0,306.7 573.0,306.0 C574.0,305.3 575.0,304.7 576.0,304.0 C577.0,303.3 578.0,302.6 579.0,301.9 C580.0,301.2 581.0,300.5 582.0,299.8 C583.0,299.2 584.0,298.5 585.0,297.8 C586.0,297.1 587.0,296.4 588.0,295.8 C589.0,295.1 590.0,294.5 591.0,293.8 C592.0,293.2 593.0,292.5 594.0,291.9 C595.0,291.3 596.0,290.7 597.0,290.1 C598.0,289.5 599.0,288.9 600.0,288.3 C601.0,287.7 602.0,287.2 603.0,286.7 C604.0,286.1 605.0,285.6 606.0,285.1 C607.0,284.6 608.0,284.1 609.0,283.7 C610.0,283.2 611.0,282.8 612.0,282.4 C613.0,281.9 614.0,281.5 615.0,281.1 C616.0,280.8 617.0,280.4 618.0,280.0 C619.0,279.7 620.0,279.3 621.0,279.0 C622.0,278.7 623.0,278.4 624.0,278.1 C625.0,277.8 626.0,277.5 627.0,277.2 C628.0,276.9 629.0,276.7 630.0,276.4 C631.0,276.2 632.0,275.9 633.0,275.7 C634.0,275.5 635.0,275.3 636.0,275.0 C637.0,274.8 638.0,274.6 639.0,274.4 C640.0,274.2 641.0,274.1 642.0,273.9 C643.0,273.7 644.0,273.5 645.0,273.4 C646.0,273.2 647.0,273.0 648.0,272.9 C649.0,272.7 650.0,272.6 651.0,272.4 C652.0,272.3 653.0,272.1 654.0,272.0 C655.0,271.8 656.0,271.7 657.0,271.6 C658.0,271.4 659.0,271.3 660.0,271.2 C661.0,271.0 662.0,270.9 663.0,270.8 C664.0,270.6 665.0,270.5 666.0,270.4 C667.0,270.3 668.0,270.1 669.0,270.0 C670.0,269.9 671.0,269.8 672.0,269.7 C673.0,269.5 674.0,269.4 675.0,269.3 C676.0,269.2 677.0,269.1 678.0,269.0 C679.0,268.9 680.0,268.8 681.0,268.6 C682.0,268.5 683.0,268.4 684.0,268.3 C685.0,268.2 686.0,268.1 687.0,268.0 C688.0,267.9 689.0,267.8 690.0,267.7 C691.0,267.6 692.0,267.5 693.0,267.4 C694.0,267.3 695.0,267.2 696.0,267.2 C697.0,267.1 698.0,267.0 699.0,266.9 C700.0,266.8 701.0,266.7 702.0,266.6 C703.0,266.5 704.0,266.4 705.0,266.4 C706.0,266.3 707.0,266.2 708.0,266.1 C709.0,266.0 710.0,265.9 711.0,265.9 C712.0,265.8 713.0,265.7 714.0,265.6 C715.0,265.6 716.0,265.5 717.0,265.4 C718.0,265.3 719.0,265.2 720.0,265.2 C721.0,265.1 722.0,265.0 723.0,265.0 C724.0,264.9 725.0,264.8 726.0,264.7 C727.0,264.7 728.0,264.6 729.0,264.5 C730.0,264.5 731.0,264.4 732.0,264.3 C733.0,264.3 734.0,264.2 735.0,264.1 C736.0,264.1 737.0,264.0 738.0,263.9 C739.0,263.9 740.0,263.8 741.0,263.7 C742.0,263.7 743.0,263.6 744.0,263.6 C745.0,263.5 746.0,263.4 747.0,263.4 C748.0,263.3 749.0,263.2 750.0,263.2 C751.0,263.1 752.0,263.1 753.0,263.0 C754.0,262.9 755.0,262.9 756.0,262.8 C757.0,262.8 758.0,262.7 759.0,262.6 C760.0,262.6 761.0,262.5 762.0,262.5 C763.0,262.4 764.0,262.3 765.0,262.3 C766.0,262.2 767.0,262.2 768.0,262.1 C769.0,262.1 770.0,262.0 771.0,261.9 C772.0,261.9 773.0,261.8 774.0,261.8 C775.0,261.7 776.0,261.6 777.0,261.6 C778.0,261.5 779.0,261.5 780.0,261.4 C781.0,261.4 782.0,261.3 783.0,261.2 C784.0,261.2 785.0,261.1 786.0,261.1 C787.0,261.0 788.0,260.9 789.0,260.9 C790.0,260.8 791.0,260.7 792.0,260.7 C793.0,260.6 794.0,260.6 795.0,260.5 C796.0,260.4 797.0,260.4 798.0,260.3 C799.0,260.2 800.0,260.2 801.0,260.1 C802.0,260.1 803.0,260.0 804.0,259.9 C805.0,259.9 806.0,259.8 807.0,259.7 C808.0,259.7 809.0,259.6 810.0,259.5 C811.0,259.5 812.0,259.4 813.0,259.3 C814.0,259.2 815.0,259.2 816.0,259.1 C817.0,259.0 818.0,259.0 819.0,258.9 C820.0,258.8 821.0,258.7 822.0,258.7 C823.0,258.6 824.0,258.5 825.0,258.4 C826.0,258.3 827.0,258.3 828.0,258.2 C829.0,258.1 830.3,258.0 831.0,257.9 C831.7,257.9 831.8,257.9 832.0,257.9" fill="none" stroke="#f6921e" stroke-width="4" stroke-linecap="round"/>
<path d="M504.0,340.5 C504.5,340.4 506.0,339.9 507.0,339.6 C508.0,339.4 509.0,339.1 510.0,338.8 C511.0,338.5 512.0,338.2 513.0,337.9 C514.0,337.6 515.0,337.3 516.0,337.0 C517.0,336.7 518.0,336.3 519.0,336.0 C520.0,335.7 521.0,335.4 522.0,335.0 C523.0,334.7 524.0,334.4 525.0,334.0 C526.0,333.7 527.0,333.3 528.0,333.0 C529.0,332.6 530.0,332.3 531.0,331.9 C532.0,331.5 533.0,331.1 534.0,330.7 C535.0,330.4 536.0,330.0 537.0,329.5 C538.0,329.1 539.0,328.7 540.0,328.3 C541.0,327.9 542.0,327.4 543.0,327.0 C544.0,326.5 545.0,326.1 546.0,325.6 C547.0,325.1 548.0,324.6 549.0,324.2 C550.0,323.7 551.0,323.2 552.0,322.6 C553.0,322.1 554.0,321.6 555.0,321.0 C556.0,320.5 557.0,319.9 558.0,319.4 C559.0,318.8 560.0,318.2 561.0,317.6 C562.0,317.0 563.0,316.4 564.0,315.7 C565.0,315.1 566.0,314.5 567.0,313.8 C568.0,313.2 569.0,312.5 570.0,311.8 C571.0,311.2 572.0,310.5 573.0,309.8 C574.0,309.1 575.0,308.4 576.0,307.8 C577.0,307.1 578.0,306.4 579.0,305.7 C580.0,305.0 581.0,304.3 582.0,303.6 C583.0,302.9 584.0,302.2 585.0,301.5 C586.0,300.8 587.0,300.1 588.0,299.4 C589.0,298.7 590.0,298.1 591.0,297.4 C592.0,296.7 593.0,296.1 594.0,295.4 C595.0,294.7 596.0,294.1 597.0,293.4 C598.0,292.8 599.0,292.1 600.0,291.5 C601.0,290.8 602.0,290.2 603.0,289.6 C604.0,288.9 605.0,288.3 606.0,287.7 C607.0,287.0 608.0,286.4 609.0,285.8 C610.0,285.2 611.0,284.5 612.0,283.9 C613.0,283.3 614.0,282.7 615.0,282.1 C616.0,281.4 617.0,280.8 618.0,280.2 C619.0,279.6 620.0,278.9 621.0,278.3 C622.0,277.7 623.0,277.1 624.0,276.4 C625.0,275.8 626.0,275.2 627.0,274.6 C628.0,273.9 629.0,273.3 630.0,272.7 C631.0,272.0 632.0,271.4 633.0,270.7 C634.0,270.1 635.0,269.4 636.0,268.8 C637.0,268.1 638.0,267.5 639.0,266.8 C640.0,266.1 641.0,265.5 642.0,264.8 C643.0,264.1 644.0,263.4 645.0,262.8 C646.0,262.1 647.0,261.4 648.0,260.7 C649.0,260.0 650.0,259.3 651.0,258.6 C652.0,257.9 653.0,257.3 654.0,256.6 C655.0,255.9 656.0,255.2 657.0,254.5 C658.0,253.9 659.0,253.2 660.0,252.5 C661.0,251.9 662.0,251.2 663.0,250.6 C664.0,249.9 665.0,249.3 666.0,248.6 C667.0,248.0 668.0,247.4 669.0,246.8 C670.0,246.1 671.0,245.5 672.0,244.9 C673.0,244.3 674.0,243.7 675.0,243.1 C676.0,242.6 677.0,242.0 678.0,241.4 C679.0,240.8 680.0,240.2 681.0,239.7 C682.0,239.1 683.0,238.5 684.0,237.9 C685.0,237.4 686.0,236.8 687.0,236.3 C688.0,235.7 689.0,235.1 690.0,234.6 C691.0,234.0 692.0,233.4 693.0,232.9 C694.0,232.3 695.0,231.8 696.0,231.2 C697.0,230.6 698.0,230.1 699.0,229.5 C700.0,228.9 701.0,228.4 702.0,227.8 C703.0,227.2 704.0,226.6 705.0,226.1 C706.0,225.5 707.0,224.9 708.0,224.3 C709.0,223.8 710.0,223.2 711.0,222.6 C712.0,222.0 713.0,221.5 714.0,220.9 C715.0,220.3 716.0,219.8 717.0,219.2 C718.0,218.7 719.0,218.1 720.0,217.6 C721.0,217.0 722.0,216.5 723.0,215.9 C724.0,215.4 725.0,214.8 726.0,214.3 C727.0,213.8 728.0,213.2 729.0,212.7 C730.0,212.2 731.0,211.6 732.0,211.1 C733.0,210.6 734.0,210.1 735.0,209.6 C736.0,209.1 737.0,208.5 738.0,208.0 C739.0,207.5 740.0,207.0 741.0,206.5 C742.0,206.0 743.0,205.5 744.0,205.0 C745.0,204.5 746.0,204.0 747.0,203.5 C748.0,203.0 749.0,202.5 750.0,202.0 C751.0,201.5 752.0,201.0 753.0,200.6 C754.0,200.1 755.0,199.6 756.0,199.1 C757.0,198.6 758.0,198.1 759.0,197.7 C760.0,197.2 761.0,196.7 762.0,196.2 C763.0,195.7 764.0,195.3 765.0,194.8 C766.0,194.3 767.0,193.8 768.0,193.4 C769.0,192.9 770.0,192.4 771.0,191.9 C772.0,191.5 773.0,191.0 774.0,190.5 C775.0,190.1 776.0,189.6 777.0,189.1 C778.0,188.7 779.0,188.2 780.0,187.7 C781.0,187.3 782.0,186.8 783.0,186.3 C784.0,185.9 785.0,185.4 786.0,184.9 C787.0,184.5 788.0,184.0 789.0,183.6 C790.0,183.1 791.0,182.6 792.0,182.2 C793.0,181.7 794.0,181.3 795.0,180.8 C796.0,180.3 797.0,179.9 798.0,179.4 C799.0,179.0 800.0,178.5 801.0,178.0 C802.0,177.6 803.0,177.1 804.0,176.7 C805.0,176.2 806.0,175.8 807.0,175.3 C808.0,174.8 809.0,174.4 810.0,173.9 C811.0,173.5 812.0,173.0 813.0,172.6 C814.0,172.1 815.0,171.7 816.0,171.3 C817.0,170.8 818.0,170.4 819.0,170.0 C820.0,169.6 821.0,169.2 822.0,168.8 C823.0,168.4 824.0,168.0 825.0,167.6 C826.0,167.3 827.0,166.9 828.0,166.6 C829.0,166.3 830.3,165.8 831.0,165.6 C831.7,165.4 831.8,165.4 832.0,165.3" fill="none" stroke="#7d2a8d" stroke-width="4" stroke-linecap="round"/>
<path d="M504.0,337.5 C504.5,337.3 506.0,336.7 507.0,336.3 C508.0,335.9 509.0,335.5 510.0,335.1 C511.0,334.7 512.0,334.3 513.0,333.9 C514.0,333.4 515.0,333.0 516.0,332.6 C517.0,332.2 518.0,331.7 519.0,331.3 C520.0,330.8 521.0,330.4 522.0,330.0 C523.0,329.5 524.0,329.1 525.0,328.6 C526.0,328.2 527.0,327.7 528.0,327.3 C529.0,326.8 530.0,326.4 531.0,325.9 C532.0,325.5 533.0,325.0 534.0,324.5 C535.0,324.1 536.0,323.6 537.0,323.1 C538.0,322.7 539.0,322.2 540.0,321.8 C541.0,321.3 542.0,320.8 543.0,320.4 C544.0,319.9 545.0,319.4 546.0,319.0 C547.0,318.5 548.0,318.1 549.0,317.6 C550.0,317.1 551.0,316.7 552.0,316.2 C553.0,315.8 554.0,315.3 555.0,314.8 C556.0,314.4 557.0,313.9 558.0,313.5 C559.0,313.0 560.0,312.6 561.0,312.1 C562.0,311.7 563.0,311.2 564.0,310.8 C565.0,310.4 566.0,309.9 567.0,309.5 C568.0,309.0 569.0,308.6 570.0,308.2 C571.0,307.8 572.0,307.3 573.0,306.9 C574.0,306.5 575.0,306.1 576.0,305.7 C577.0,305.3 578.0,304.8 579.0,304.4 C580.0,304.0 581.0,303.6 582.0,303.3 C583.0,302.9 584.0,302.5 585.0,302.1 C586.0,301.7 587.0,301.4 588.0,301.0 C589.0,300.6 590.0,300.3 591.0,299.9 C592.0,299.6 593.0,299.2 594.0,298.9 C595.0,298.5 596.0,298.2 597.0,297.9 C598.0,297.6 599.0,297.2 600.0,296.9 C601.0,296.6 602.0,296.3 603.0,296.0 C604.0,295.7 605.0,295.5 606.0,295.2 C607.0,294.9 608.0,294.6 609.0,294.4 C610.0,294.1 611.0,293.9 612.0,293.6 C613.0,293.4 614.0,293.2 615.0,293.0 C616.0,292.7 617.0,292.5 618.0,292.3 C619.0,292.1 620.0,291.9 621.0,291.7 C622.0,291.6 623.0,291.4 624.0,291.2 C625.0,291.0 626.0,290.9 627.0,290.7 C628.0,290.6 629.0,290.4 630.0,290.3 C631.0,290.2 632.0,290.0 633.0,289.9 C634.0,289.8 635.0,289.7 636.0,289.6 C637.0,289.5 638.0,289.4 639.0,289.3 C640.0,289.3 641.0,289.2 642.0,289.1 C643.0,289.0 644.0,289.0 645.0,288.9 C646.0,288.9 647.0,288.9 648.0,288.8 C649.0,288.8 650.0,288.8 651.0,288.8 C652.0,288.7 653.0,288.7 654.0,288.7 C655.0,288.7 656.0,288.8 657.0,288.8 C658.0,288.8 659.0,288.8 660.0,288.9 C661.0,288.9 662.0,289.0 663.0,289.0 C664.0,289.1 665.0,289.1 666.0,289.2 C667.0,289.3 668.0,289.3 669.0,289.4 C670.0,289.5 671.0,289.6 672.0,289.7 C673.0,289.8 674.0,289.9 675.0,290.0 C676.0,290.1 677.0,290.2 678.0,290.4 C679.0,290.5 680.0,290.6 681.0,290.8 C682.0,290.9 683.0,291.1 684.0,291.2 C685.0,291.4 686.0,291.5 687.0,291.7 C688.0,291.8 689.0,292.0 690.0,292.2 C691.0,292.4 692.0,292.5 693.0,292.7 C694.0,292.9 695.0,293.1 696.0,293.3 C697.0,293.5 698.0,293.7 699.0,293.9 C700.0,294.1 701.0,294.3 702.0,294.5 C703.0,294.7 704.0,294.9 705.0,295.1 C706.0,295.3 707.0,295.6 708.0,295.8 C709.0,296.0 710.0,296.2 711.0,296.5 C712.0,296.7 713.0,296.9 714.0,297.2 C715.0,297.4 716.0,297.6 717.0,297.9 C718.0,298.1 719.0,298.4 720.0,298.6 C721.0,298.8 722.0,299.1 723.0,299.3 C724.0,299.6 725.0,299.8 726.0,300.1 C727.0,300.3 728.0,300.6 729.0,300.8 C730.0,301.1 731.0,301.4 732.0,301.6 C733.0,301.9 734.0,302.1 735.0,302.4 C736.0,302.6 737.0,302.9 738.0,303.1 C739.0,303.4 740.0,303.7 741.0,303.9 C742.0,304.2 743.0,304.4 744.0,304.7 C745.0,304.9 746.0,305.2 747.0,305.4 C748.0,305.7 749.0,305.9 750.0,306.2 C751.0,306.4 752.0,306.7 753.0,307.0 C754.0,307.2 755.0,307.5 756.0,307.7 C757.0,308.0 758.0,308.2 759.0,308.5 C760.0,308.7 761.0,308.9 762.0,309.2 C763.0,309.4 764.0,309.7 765.0,309.9 C766.0,310.2 767.0,310.4 768.0,310.7 C769.0,310.9 770.0,311.1 771.0,311.4 C772.0,311.6 773.0,311.9 774.0,312.1 C775.0,312.3 776.0,312.6 777.0,312.8 C778.0,313.0 779.0,313.3 780.0,313.5 C781.0,313.7 782.0,313.9 783.0,314.2 C784.0,314.4 785.0,314.6 786.0,314.8 C787.0,315.1 788.0,315.3 789.0,315.5 C790.0,315.7 791.0,315.9 792.0,316.1 C793.0,316.3 794.0,316.6 795.0,316.8 C796.0,317.0 797.0,317.2 798.0,317.4 C799.0,317.6 800.0,317.8 801.0,318.0 C802.0,318.2 803.0,318.4 804.0,318.6 C805.0,318.8 806.0,318.9 807.0,319.1 C808.0,319.3 809.0,319.5 810.0,319.7 C811.0,319.9 812.0,320.0 813.0,320.2 C814.0,320.4 815.0,320.6 816.0,320.7 C817.0,320.9 818.0,321.1 819.0,321.2 C820.0,321.4 821.0,321.5 822.0,321.7 C823.0,321.9 824.0,322.0 825.0,322.2 C826.0,322.3 827.0,322.4 828.0,322.6 C829.0,322.7 830.3,322.9 831.0,323.0 C831.7,323.1 831.8,323.1 832.0,323.1" fill="none" stroke="#8cc540" stroke-width="4" stroke-linecap="round"/>
<path d="M504.0,337.9 C504.5,337.7 506.0,337.1 507.0,336.8 C508.0,336.4 509.0,336.0 510.0,335.6 C511.0,335.2 512.0,334.8 513.0,334.4 C514.0,334.0 515.0,333.6 516.0,333.1 C517.0,332.7 518.0,332.3 519.0,331.9 C520.0,331.4 521.0,331.0 522.0,330.5 C523.0,330.1 524.0,329.6 525.0,329.1 C526.0,328.7 527.0,328.2 528.0,327.7 C529.0,327.3 530.0,326.8 531.0,326.3 C532.0,325.8 533.0,325.3 534.0,324.9 C535.0,324.4 536.0,323.9 537.0,323.4 C538.0,322.9 539.0,322.4 540.0,321.9 C541.0,321.4 542.0,320.9 543.0,320.4 C544.0,319.9 545.0,319.4 546.0,318.9 C547.0,318.4 548.0,317.9 549.0,317.4 C550.0,316.9 551.0,316.4 552.0,315.9 C553.0,315.4 554.0,314.9 555.0,314.4 C556.0,313.9 557.0,313.4 558.0,312.9 C559.0,312.4 560.0,311.9 561.0,311.4 C562.0,310.9 563.0,310.4 564.0,309.9 C565.0,309.4 566.0,308.9 567.0,308.4 C568.0,308.0 569.0,307.5 570.0,307.0 C571.0,306.5 572.0,306.1 573.0,305.6 C574.0,305.1 575.0,304.7 576.0,304.2 C577.0,303.8 578.0,303.3 579.0,302.9 C580.0,302.5 581.0,302.0 582.0,301.6 C583.0,301.2 584.0,300.8 585.0,300.3 C586.0,299.9 587.0,299.5 588.0,299.1 C589.0,298.7 590.0,298.3 591.0,298.0 C592.0,297.6 593.0,297.2 594.0,296.8 C595.0,296.5 596.0,296.1 597.0,295.7 C598.0,295.4 599.0,295.0 600.0,294.7 C601.0,294.3 602.0,294.0 603.0,293.7 C604.0,293.3 605.0,293.0 606.0,292.7 C607.0,292.4 608.0,292.1 609.0,291.8 C610.0,291.5 611.0,291.2 612.0,290.9 C613.0,290.6 614.0,290.3 615.0,290.0 C616.0,289.7 617.0,289.5 618.0,289.2 C619.0,288.9 620.0,288.7 621.0,288.4 C622.0,288.1 623.0,287.9 624.0,287.7 C625.0,287.4 626.0,287.2 627.0,286.9 C628.0,286.7 629.0,286.5 630.0,286.2 C631.0,286.0 632.0,285.8 633.0,285.6 C634.0,285.4 635.0,285.2 636.0,285.0 C637.0,284.8 638.0,284.6 639.0,284.4 C640.0,284.2 641.0,284.0 642.0,283.8 C643.0,283.6 644.0,283.5 645.0,283.3 C646.0,283.1 647.0,282.9 648.0,282.8 C649.0,282.6 650.0,282.5 651.0,282.3 C652.0,282.1 653.0,282.0 654.0,281.9 C655.0,281.7 656.0,281.6 657.0,281.4 C658.0,281.3 659.0,281.2 660.0,281.0 C661.0,280.9 662.0,280.8 663.0,280.7 C664.0,280.5 665.0,280.4 666.0,280.3 C667.0,280.2 668.0,280.1 669.0,280.0 C670.0,279.9 671.0,279.8 672.0,279.7 C673.0,279.6 674.0,279.5 675.0,279.4 C676.0,279.3 677.0,279.3 678.0,279.2 C679.0,279.1 680.0,279.0 681.0,278.9 C682.0,278.9 683.0,278.8 684.0,278.7 C685.0,278.7 686.0,278.6 687.0,278.5 C688.0,278.5 689.0,278.4 690.0,278.4 C691.0,278.3 692.0,278.3 693.0,278.2 C694.0,278.2 695.0,278.1 696.0,278.1 C697.0,278.0 698.0,278.0 699.0,278.0 C700.0,277.9 701.0,277.9 702.0,277.8 C703.0,277.8 704.0,277.8 705.0,277.8 C706.0,277.7 707.0,277.7 708.0,277.7 C709.0,277.7 710.0,277.6 711.0,277.6 C712.0,277.6 713.0,277.6 714.0,277.6 C715.0,277.6 716.0,277.6 717.0,277.5 C718.0,277.5 719.0,277.5 720.0,277.5 C721.0,277.5 722.0,277.5 723.0,277.5 C724.0,277.5 725.0,277.5 726.0,277.5 C727.0,277.5 728.0,277.5 729.0,277.5 C730.0,277.5 731.0,277.5 732.0,277.5 C733.0,277.6 734.0,277.6 735.0,277.6 C736.0,277.6 737.0,277.6 738.0,277.6 C739.0,277.6 740.0,277.6 741.0,277.7 C742.0,277.7 743.0,277.7 744.0,277.7 C745.0,277.7 746.0,277.7 747.0,277.8 C748.0,277.8 749.0,277.8 750.0,277.8 C751.0,277.8 752.0,277.9 753.0,277.9 C754.0,277.9 755.0,277.9 756.0,278.0 C757.0,278.0 758.0,278.0 759.0,278.0 C760.0,278.1 761.0,278.1 762.0,278.1 C763.0,278.1 764.0,278.2 765.0,278.2 C766.0,278.2 767.0,278.2 768.0,278.3 C769.0,278.3 770.0,278.3 771.0,278.3 C772.0,278.4 773.0,278.4 774.0,278.4 C775.0,278.4 776.0,278.5 777.0,278.5 C778.0,278.5 779.0,278.5 780.0,278.6 C781.0,278.6 782.0,278.6 783.0,278.6 C784.0,278.7 785.0,278.7 786.0,278.7 C787.0,278.7 788.0,278.7 789.0,278.8 C790.0,278.8 791.0,278.8 792.0,278.8 C793.0,278.8 794.0,278.9 795.0,278.9 C796.0,278.9 797.0,278.9 798.0,278.9 C799.0,278.9 800.0,278.9 801.0,279.0 C802.0,279.0 803.0,279.0 804.0,279.0 C805.0,279.0 806.0,279.0 807.0,279.0 C808.0,279.0 809.0,279.0 810.0,279.0 C811.0,279.0 812.0,279.0 813.0,279.0 C814.0,279.0 815.0,279.0 816.0,279.0 C817.0,279.0 818.0,279.0 819.0,279.0 C820.0,279.0 821.0,279.0 822.0,279.0 C823.0,279.0 824.0,279.0 825.0,279.0 C826.0,278.9 827.0,278.9 828.0,278.9 C829.0,278.9 830.3,278.9 831.0,278.8 C831.7,278.8 831.8,278.8 832.0,278.8" fill="none" stroke="#0b86c8" stroke-width="4.2" stroke-linecap="round"/>
<line x1="130" y1="251" x2="832" y2="251" stroke="#e9252b" stroke-width="3.7" stroke-dasharray="4.79 4.785"/>
<line x1="130" y1="288.4" x2="832" y2="288.4" stroke="#2c3e95" stroke-width="2.8" stroke-dasharray="4.79 4.785"/>
<path d="M130.0,394.2 C131.1,394.2 134.0,393.4 136.5,394.2 C139.0,395.0 142.1,398.8 145.0,398.8 C147.9,398.8 149.6,395.4 154.2,394.2 C158.8,393.0 168.8,391.5 172.5,391.6 C176.2,391.7 173.7,395.2 176.5,394.8 C179.3,394.3 185.4,390.1 189.6,388.9 C193.8,387.7 196.7,387.9 201.4,387.6 C206.1,387.3 210.3,387.6 218.0,387.0 C225.7,386.4 239.6,385.2 247.8,384.2 C256.0,383.2 260.9,381.5 267.4,380.9 C273.9,380.2 280.7,380.6 287.0,380.3 C293.3,380.0 299.6,379.0 305.0,379.0 C310.4,379.0 314.4,380.2 319.7,380.1 C325.0,379.9 331.2,378.0 336.7,378.1 C342.1,378.2 348.8,379.2 352.4,380.7 C356.0,382.2 355.5,386.8 358.3,387.3 C361.1,387.7 366.7,383.8 369.4,383.4 C372.1,383.0 372.1,385.6 374.7,384.7 C377.3,383.8 381.5,379.1 385.0,377.8 C388.5,376.5 392.4,377.9 395.5,377.1 C398.6,376.3 399.6,374.8 403.3,373.2 C407.0,371.6 414.6,367.1 417.8,367.3 C421.0,367.5 419.0,374.5 422.3,374.5 C425.6,374.5 432.9,369.9 437.4,367.3 C441.9,364.7 446.0,358.5 449.2,358.8 C452.4,359.1 453.1,369.2 456.4,369.3 C459.7,369.4 465.3,362.2 468.9,359.4 C472.5,356.6 474.8,354.7 478.1,352.4 C481.4,350.1 484.2,347.5 488.6,345.7 C493.0,343.9 501.7,342.3 504.3,341.6" fill="none" stroke="#f6921e" stroke-width="1.6" stroke-linejoin="round"/>
<path d="M130.0,390.8 C131.1,390.8 134.0,390.0 136.5,390.8 C139.0,391.6 142.1,395.4 145.0,395.4 C147.9,395.4 149.6,392.0 154.2,390.8 C158.8,389.6 168.8,388.1 172.5,388.2 C176.2,388.3 173.7,391.8 176.5,391.4 C179.3,390.9 185.4,386.7 189.6,385.5 C193.8,384.3 196.7,384.5 201.4,384.2 C206.1,383.9 210.3,384.2 218.0,383.6 C225.7,383.0 239.6,381.8 247.8,380.8 C256.0,379.8 260.9,378.1 267.4,377.5 C273.9,376.9 280.7,377.2 287.0,376.9 C293.3,376.6 299.6,375.6 305.0,375.6 C310.4,375.6 314.4,376.9 319.7,376.7 C325.0,376.5 331.2,374.6 336.7,374.7 C342.1,374.8 348.8,375.8 352.4,377.3 C356.0,378.8 355.5,383.4 358.3,383.9 C361.1,384.3 366.7,380.4 369.4,380.0 C372.1,379.6 372.1,382.2 374.7,381.3 C377.3,380.4 381.5,375.7 385.0,374.4 C388.5,373.1 392.4,374.5 395.5,373.7 C398.6,372.9 399.6,371.4 403.3,369.8 C407.0,368.2 414.6,363.7 417.8,363.9 C421.0,364.1 419.0,371.1 422.3,371.1 C425.6,371.1 432.9,366.5 437.4,363.9 C441.9,361.3 446.0,355.1 449.2,355.4 C452.4,355.7 453.1,365.8 456.4,365.9 C459.7,366.0 465.3,358.8 468.9,356.0 C472.5,353.2 474.8,351.3 478.1,349.0 C481.4,346.7 484.2,344.1 488.6,342.3 C493.0,340.5 501.7,338.9 504.3,338.2" fill="none" stroke="#1a1a1a" stroke-width="4.9" stroke-linejoin="round"/>
<path d="M130.0,390.8 C131.1,390.8 134.0,390.0 136.5,390.8 C139.0,391.6 142.1,395.4 145.0,395.4 C147.9,395.4 149.6,392.0 154.2,390.8 C158.8,389.6 168.8,388.1 172.5,388.2 C176.2,388.3 173.7,391.8 176.5,391.4 C179.3,390.9 185.4,386.7 189.6,385.5 C193.8,384.3 196.7,384.5 201.4,384.2 C206.1,383.9 210.3,384.2 218.0,383.6 C225.7,383.0 239.6,381.8 247.8,380.8 C256.0,379.8 260.9,378.1 267.4,377.5 C273.9,376.9 280.7,377.2 287.0,376.9 C293.3,376.6 299.6,375.6 305.0,375.6 C310.4,375.6 314.4,376.9 319.7,376.7 C325.0,376.5 331.2,374.6 336.7,374.7 C342.1,374.8 348.8,375.8 352.4,377.3 C356.0,378.8 355.5,383.4 358.3,383.9 C361.1,384.3 366.7,380.4 369.4,380.0 C372.1,379.6 372.1,382.2 374.7,381.3 C377.3,380.4 381.5,375.7 385.0,374.4 C388.5,373.1 392.4,374.5 395.5,373.7 C398.6,372.9 399.6,371.4 403.3,369.8 C407.0,368.2 414.6,363.7 417.8,363.9 C421.0,364.1 419.0,371.1 422.3,371.1 C425.6,371.1 432.9,366.5 437.4,363.9 C441.9,361.3 446.0,355.1 449.2,355.4 C452.4,355.7 453.1,365.8 456.4,365.9 C459.7,366.0 465.3,358.8 468.9,356.0 C472.5,353.2 474.8,351.3 478.1,349.0 C481.4,346.7 484.2,344.1 488.6,342.3 C493.0,340.5 501.7,338.9 504.3,338.2" fill="none" stroke="#0b86c8" stroke-width="3.9" stroke-linejoin="round"/>
</g>
<line x1="704.5" y1="59.8" x2="763.5" y2="102" stroke="#000" stroke-width="1.3"/>
<line x1="675.8" y1="108.3" x2="777" y2="158.2" stroke="#e9252b" stroke-width="1.3"/>
<line x1="692.7" y1="154.8" x2="762" y2="193" stroke="#7d2a8d" stroke-width="1.3"/>
<line x1="613.7" y1="191" x2="716.5" y2="262.5" stroke="#f6921e" stroke-width="1.3"/>
<line x1="594" y1="237.3" x2="682" y2="275.6" stroke="#0b86c8" stroke-width="1.3"/>
<line x1="498.4" y1="307.2" x2="531.8" y2="315" stroke="#000" stroke-width="1.3"/>
<line x1="619" y1="405" x2="716.5" y2="304" stroke="#8cc540" stroke-width="1.3"/>
<line x1="194" y1="416.9" x2="206.6" y2="441.6" stroke="#000" stroke-width="1.3"/>
<line x1="814.6" y1="143" x2="814.6" y2="167" stroke="#e9252b" stroke-width="1.3"/>
<path d="M814.6,170.9 L809.4,164.1 L814.6,166.6 L819.8,164.1 Z" fill="#e9252b"/>
<line x1="815.2" y1="400" x2="815.2" y2="334" stroke="#000" stroke-width="1.3"/>
<path d="M815.2,327.8 L809.9,337.3 L815.2,334.8 L820.5,337.3 Z" fill="#000"/>
<line x1="808.5" y1="324.4" x2="822.8" y2="324.4" stroke="#000" stroke-width="3.7"/>
<path d="M130.3,27.4 H832.7 V461 H130.3 Z" fill="none" stroke="#000" stroke-width="1.3"/>
<line x1="832.7" y1="27" x2="832.7" y2="461" stroke="#555" stroke-width="1.3"/>
<line x1="130" y1="400.3" x2="137" y2="400.3" stroke="#444" stroke-width="1"/>
<text x="124.0" y="404.2" fill="#000" color="#000" font-size="22.5" text-anchor="end" transform="translate(0,-8.08) scale(1,1.020)" >0</text>
<line x1="130" y1="325.7" x2="137" y2="325.7" stroke="#444" stroke-width="1"/>
<text x="124.0" y="329.6" fill="#000" color="#000" font-size="22.5" text-anchor="end" transform="translate(0,-6.59) scale(1,1.020)" >1</text>
<line x1="130" y1="251.1" x2="137" y2="251.1" stroke="#444" stroke-width="1"/>
<line x1="130" y1="176.5" x2="137" y2="176.5" stroke="#444" stroke-width="1"/>
<text x="124.0" y="180.4" fill="#000" color="#000" font-size="22.5" text-anchor="end" transform="translate(0,-3.61) scale(1,1.020)" >3</text>
<line x1="130" y1="101.9" x2="137" y2="101.9" stroke="#444" stroke-width="1"/>
<text x="124.0" y="105.8" fill="#000" color="#000" font-size="22.5" text-anchor="end" transform="translate(0,-2.12) scale(1,1.020)" >4</text>
<line x1="130" y1="27.3" x2="137" y2="27.3" stroke="#444" stroke-width="1"/>
<text x="124.0" y="31.2" fill="#000" color="#000" font-size="22.5" text-anchor="end" transform="translate(0,-0.62) scale(1,1.020)" >5</text>
<text x="129.8" y="489.3" fill="#000" color="#000" font-size="22.5" text-anchor="middle" transform="translate(0,-14.68) scale(1,1.030)" >1900</text>
<text x="305.9" y="489.3" fill="#000" color="#000" font-size="22.5" text-anchor="middle" transform="translate(0,-14.68) scale(1,1.030)" >1950</text>
<text x="482.0" y="489.3" fill="#000" color="#000" font-size="22.5" text-anchor="middle" transform="translate(0,-14.68) scale(1,1.030)" >2000</text>
<text x="658.1" y="489.3" fill="#000" color="#000" font-size="22.5" text-anchor="middle" transform="translate(0,-14.68) scale(1,1.030)" >2050</text>
<text x="834.2" y="489.3" fill="#000" color="#000" font-size="22.5" text-anchor="middle" transform="translate(0,-14.68) scale(1,1.030)" >2100</text>
<text transform="translate(38.8,244.2) rotate(-90)" font-size="22.6" text-anchor="middle" fill="#000" color="#000">Global average surface temperature increase</text>
<text transform="translate(66.4,241.2) rotate(-90)" font-size="22.6" text-anchor="middle" fill="#000" color="#000">above pre-industrial levels (°C)</text>
<text x="118.2" y="254.6" fill="#e9252b" color="#e9252b" font-size="21" text-anchor="end" transform="translate(0,-10.18) scale(1,1.040)" >2°C</text>
<text x="126.6" y="292.6" fill="#2c3e95" color="#2c3e95" font-size="21" text-anchor="end" transform="translate(0,-11.70) scale(1,1.040)" >1.5°C</text>
<text x="605.5" y="44.4" fill="#000" color="#000" font-size="17.25" text-anchor="middle" transform="translate(0,0.00) scale(1,1.000)" >IPCC SRES A1FI</text>
<text x="605.0" y="65.1" fill="#000" color="#000" font-size="17.25" text-anchor="middle" transform="translate(0,0.00) scale(1,1.000)" >very likely to exceed 4°C</text>
<text x="594.8" y="92.2" fill="#e9252b" color="#e9252b" font-size="17.25" text-anchor="middle" transform="translate(0,0.00) scale(1,1.000)" >Reference (close to SRES A1B)</text>
<text x="594.4" y="112.9" fill="#e9252b" color="#e9252b" font-size="17.25" text-anchor="middle" transform="translate(0,0.00) scale(1,1.000)" >likely to exceed 3°C</text>
<text x="479.0" y="138.6" fill="#7d2a8d" color="#7d2a8d" font-size="17.25" text-anchor="middle" transform="translate(0,0.00) scale(1,1.000)" >Current Pledges</text>
<text x="478.8" y="159.0" fill="#7d2a8d" color="#7d2a8d" font-size="17.25" text-anchor="middle" transform="translate(0,0.00) scale(1,1.000)" >virtually certain to exceed 2°C; 50% chance above 3°C</text>
<text x="447.4" y="193.6" fill="#f6921e" color="#f6921e" font-size="17.25" text-anchor="middle" transform="translate(0,0.00) scale(1,1.000)" >Stabilization at 50% chance to exceed 2°C</text>
<text x="399.9" y="219.8" fill="#0b86c8" color="#0b86c8" font-size="17.25" text-anchor="middle" transform="translate(0,0.00) scale(1,1.000)" >RCP3PD</text>
<text x="399.6" y="241.4" fill="#0b86c8" color="#0b86c8" font-size="17.25" text-anchor="middle" transform="translate(0,0.00) scale(1,1.000)" >likely below 2°C; medium chance to exceed 1.5°C</text>
<text x="338.3" y="310.9" fill="#000" color="#000" font-size="17.25" text-anchor="middle" transform="translate(0,0.00) scale(1,1.000)" >Global sudden stop to emissions in 2016</text>
<text x="338.5" y="330.6" fill="#000" color="#000" font-size="17.25" text-anchor="middle" transform="translate(0,0.00) scale(1,1.000)" >likely below 1.5°C</text>
<text x="839.0" y="140.3" fill="#e9252b" color="#e9252b" font-size="17" text-anchor="start" transform="translate(0,0.00) scale(1,1.000)" >Effect of current</text>
<text x="839.0" y="159.8" fill="#e9252b" color="#e9252b" font-size="17" text-anchor="start" transform="translate(0,0.00) scale(1,1.000)" >pledges</text>
<text x="838.8" y="362.0" fill="#000" color="#000" font-size="17" text-anchor="start" transform="translate(0,0.00) scale(1,1.000)" >Geophysical</text>
<text x="838.8" y="382.3" fill="#000" color="#000" font-size="17" text-anchor="start" transform="translate(0,0.00) scale(1,1.000)" >intertia</text>
<text x="597.5" y="417.4" fill="#8cc540" color="#8cc540" font-size="16.8" text-anchor="middle" transform="translate(0,0.00) scale(1,1.000)" >Illustrative low-emission scenario with negative CO<tspan font-size="13" dy="4">2</tspan><tspan dy="-4"> emissions</tspan></text>
<text x="596.7" y="437.6" fill="#8cc540" color="#8cc540" font-size="16.8" text-anchor="middle" transform="translate(0,0.00) scale(1,1.000)" >from upper half of literature range</text>
<text x="596.9" y="457.1" fill="#8cc540" color="#8cc540" font-size="16.8" text-anchor="middle" transform="translate(0,0.00) scale(1,1.000)" >in 2<tspan font-size="13.5" dy="-3.4">nd</tspan><tspan dy="3.4"> half of 21</tspan><tspan font-size="13.5" dy="-3.4">st</tspan><tspan dy="3.4"> Century</tspan></text>
<text x="291.5" y="457.0" fill="#000" color="#000" font-size="17.25" text-anchor="middle" transform="translate(0,0.00) scale(1,1.000)" >Historical observations</text>
</svg>
</body></html>
